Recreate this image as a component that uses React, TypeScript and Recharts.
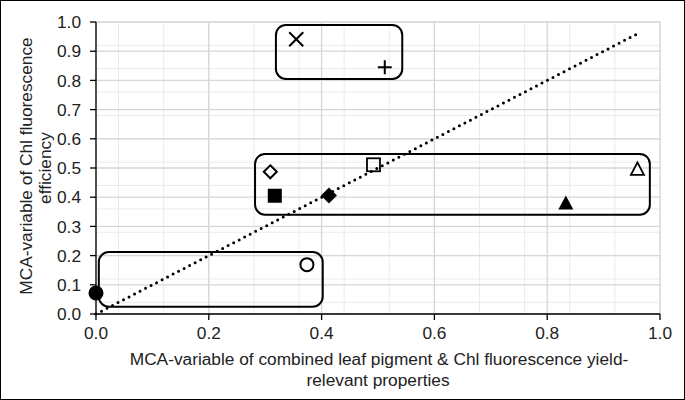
import React from "react";
import {
  ScatterChart,
  Scatter,
  XAxis,
  YAxis,
  CartesianGrid,
  ReferenceArea,
  ReferenceLine,
} from "recharts";

// tick labels
const xTicks = [0, 0.2, 0.4, 0.6, 0.8, 1.0];
const yTicks = [0, 0.1, 0.2, 0.3, 0.4, 0.5, 0.6, 0.7, 0.8, 0.9, 1.0];

// points, one marker type each
const crossPt = [{ x: 0.355, y: 0.941 }];
const plusPt = [{ x: 0.512, y: 0.845 }];
const openDiamondPt = [{ x: 0.309, y: 0.487 }];
const filledSquarePt = [{ x: 0.317, y: 0.405 }];
const filledDiamondPt = [{ x: 0.413, y: 0.406 }];
const openSquarePt = [{ x: 0.492, y: 0.511 }];
const openTrianglePt = [{ x: 0.96, y: 0.497 }];
const filledTrianglePt = [{ x: 0.833, y: 0.38 }];
const openCirclePt = [{ x: 0.374, y: 0.169 }];
const filledCirclePt = [{ x: 0.0, y: 0.072 }];

// 1:1 dotted line
const oneToOne = [
  { x: 0, y: 0 },
  { x: 0.96, y: 0.96 },
];

// grouping boxes (data units): x1, x2, y1, y2
const groupBoxes = [
  { x1: 0.319, x2: 0.543, y1: 0.805, y2: 0.99 },
  { x1: 0.282, x2: 0.982, y1: 0.34, y2: 0.548 },
  { x1: 0.005, x2: 0.402, y1: 0.025, y2: 0.212 },
];

const minorX = Array.from({ length: 26 }, (_, i) => +(i * 0.04).toFixed(2));
const minorY = Array.from({ length: 51 }, (_, i) => +(i * 0.02).toFixed(2));

const FONT = "'Liberation Sans', Arial, sans-serif";
const FS = 17.3;
const TXT = "#222";

const RoundBox = (props: any) => {
  const { x, y, width, height } = props;
  return (
    <rect
      x={x}
      y={y}
      width={width}
      height={height}
      rx={10}
      ry={10}
      fill="none"
      stroke="#000"
      strokeWidth={2}
    />
  );
};

const cross = ({ cx, cy }: any) => (
  <g stroke="#000" strokeWidth={2}>
    <line x1={cx - 7} y1={cy - 7} x2={cx + 7} y2={cy + 7} />
    <line x1={cx - 7} y1={cy + 7} x2={cx + 7} y2={cy - 7} />
  </g>
);
const plus = ({ cx, cy }: any) => (
  <g stroke="#000" strokeWidth={2}>
    <line x1={cx - 7} y1={cy} x2={cx + 7} y2={cy} />
    <line x1={cx} y1={cy - 7} x2={cx} y2={cy + 7} />
  </g>
);
const openDiamond = ({ cx, cy }: any) => (
  <polygon
    points={`${cx},${cy - 6.5} ${cx + 6.5},${cy} ${cx},${cy + 6.5} ${cx - 6.5},${cy}`}
    fill="#fff"
    stroke="#000"
    strokeWidth={2}
  />
);
const filledDiamond = ({ cx, cy }: any) => (
  <polygon
    points={`${cx},${cy - 8} ${cx + 8},${cy} ${cx},${cy + 8} ${cx - 8},${cy}`}
    fill="#000"
  />
);
const filledSquare = ({ cx, cy }: any) => (
  <rect x={cx - 7} y={cy - 7} width={14} height={14} fill="#000" />
);
const openSquare = ({ cx, cy }: any) => (
  <rect x={cx - 6.5} y={cy - 6.5} width={13} height={13} fill="none" stroke="#000" strokeWidth={1.8} />
);
const openTriangle = ({ cx, cy }: any) => (
  <polygon
    points={`${cx},${cy - 6.5} ${cx + 6.5},${cy + 6} ${cx - 6.5},${cy + 6}`}
    fill="#fff"
    stroke="#000"
    strokeWidth={1.8}
  />
);
const filledTriangle = ({ cx, cy }: any) => (
  <polygon
    points={`${cx},${cy - 7.5} ${cx + 7.5},${cy + 6.5} ${cx - 7.5},${cy + 6.5}`}
    fill="#000"
  />
);
const openCircle = ({ cx, cy }: any) => (
  <circle cx={cx} cy={cy} r={6.5} fill="#fff" stroke="#000" strokeWidth={2} />
);
const filledCircle = ({ cx, cy }: any) => <circle cx={cx} cy={cy} r={7.5} fill="#000" />;

const YTitle = () => (
  <g fontFamily={FONT} fontSize={FS} fill={TXT}>
    <text x={26} y={166} transform="rotate(-90 26 166)" textAnchor="middle" dominantBaseline="central">
      MCA-variable of Chl fluorescence
    </text>
    <text x={45} y={168} transform="rotate(-90 45 168)" textAnchor="middle" dominantBaseline="central">
      efficiency
    </text>
  </g>
);

const XTitle = () => (
  <g fontFamily={FONT} fontSize={FS} fill={TXT}>
    <text x={379} y={365} textAnchor="middle">
      MCA-variable of combined leaf pigment &amp; Chl fluorescence yield-
    </text>
    <text x={378} y={386} textAnchor="middle">
      relevant properties
    </text>
  </g>
);

const tickStyle = { fontFamily: FONT, fontSize: FS, fill: TXT };

export default function App() {
  return (
    <div style={{ position: "absolute", left: 0, top: 0, width: 685, height: 400, background: "#fff" }}>
      <ScatterChart width={685} height={400} margin={{ top: 22, right: 25, left: 16, bottom: 56 }}>
        <CartesianGrid
          stroke="#ebebeb"
          strokeWidth={1}
          verticalValues={minorX}
          horizontalValues={minorY}
        />
        <CartesianGrid
          stroke="#d6d6d6"
          strokeWidth={1.3}
          verticalValues={xTicks}
          horizontalValues={yTicks}
        />
        <XAxis
          type="number"
          dataKey="x"
          domain={[0, 1]}
          ticks={xTicks}
          tickFormatter={(v: number) => v.toFixed(1)}
          tick={tickStyle}
          tickSize={6}
          tickMargin={7}
          height={30}
          axisLine={{ stroke: "#000", strokeWidth: 1.3 }}
          tickLine={{ stroke: "#000", strokeWidth: 1.3 }}
          label={{ content: XTitle }}
        />
        <YAxis
          type="number"
          dataKey="y"
          domain={[0, 1]}
          ticks={yTicks}
          tickFormatter={(v: number) => v.toFixed(1)}
          tick={tickStyle}
          tickSize={6}
          tickMargin={9}
          width={80}
          axisLine={{ stroke: "#000", strokeWidth: 1.3 }}
          tickLine={{ stroke: "#000", strokeWidth: 1.3 }}
          label={{ content: YTitle }}
        />
        {groupBoxes.map((b, i) => (
          <ReferenceArea
            key={i}
            x1={b.x1}
            x2={b.x2}
            y1={b.y1}
            y2={b.y2}
            shape={RoundBox}
            ifOverflow="visible"
          />
        ))}
        <ReferenceLine
          segment={oneToOne}
          stroke="#000"
          strokeWidth={3}
          strokeDasharray="0 6.2"
          strokeLinecap="round"
        />
        <Scatter data={crossPt} shape={cross} isAnimationActive={false} />
        <Scatter data={plusPt} shape={plus} isAnimationActive={false} />
        <Scatter data={openDiamondPt} shape={openDiamond} isAnimationActive={false} />
        <Scatter data={filledSquarePt} shape={filledSquare} isAnimationActive={false} />
        <Scatter data={filledDiamondPt} shape={filledDiamond} isAnimationActive={false} />
        <Scatter data={openSquarePt} shape={openSquare} isAnimationActive={false} />
        <Scatter data={openTrianglePt} shape={openTriangle} isAnimationActive={false} />
        <Scatter data={filledTrianglePt} shape={filledTriangle} isAnimationActive={false} />
        <Scatter data={openCirclePt} shape={openCircle} isAnimationActive={false} />
        <Scatter data={filledCirclePt} shape={filledCircle} isAnimationActive={false} />
      </ScatterChart>
      <div
        style={{
          position: "absolute",
          left: 0,
          top: 0,
          width: 685,
          height: 400,
          boxSizing: "border-box",
          border: "1.5px solid #000",
          pointerEvents: "none",
        }}
      />
    </div>
  );
}
